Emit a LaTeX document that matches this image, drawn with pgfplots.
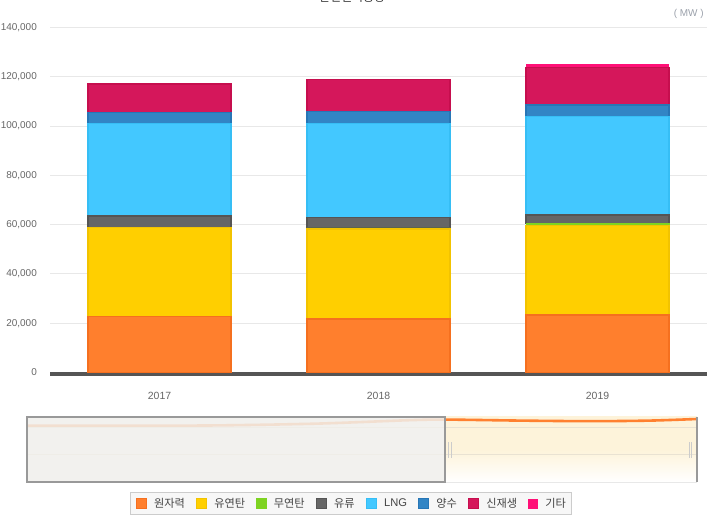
\documentclass[border=0pt]{standalone}
\usepackage{pgfplots}
\pgfplotsset{compat=1.18}
\usepackage{fontspec}
\setmainfont{Liberation Sans}
\newfontfamily\kr{Noto Sans CJK KR}
\definecolor{cNuc}{HTML}{FF7F2D}
\definecolor{cNucD}{HTML}{F5701F}
\definecolor{cCoal}{HTML}{FFCF00}
\definecolor{cCoalD}{HTML}{F2C300}
\definecolor{cAnth}{HTML}{7ED321}
\definecolor{cOil}{HTML}{666666}
\definecolor{cOilD}{HTML}{555555}
\definecolor{cLng}{HTML}{43C8FF}
\definecolor{cLngD}{HTML}{36BEF5}
\definecolor{cPump}{HTML}{3285C5}
\definecolor{cPumpD}{HTML}{2776B6}
\definecolor{cRen}{HTML}{D5175B}
\definecolor{cRenD}{HTML}{C60E4E}
\definecolor{cEtc}{HTML}{FF1077}
\definecolor{c555}{HTML}{555555}
\definecolor{c666}{HTML}{666666}
\definecolor{c444}{HTML}{444444}
\definecolor{c999}{HTML}{999999}
\definecolor{cMW}{HTML}{9AA0AA}
\definecolor{cGrid}{HTML}{E8E8E8}
\definecolor{cLeg}{HTML}{F7F7F7}
\definecolor{cLegB}{HTML}{CCCCCC}
\definecolor{cNavBg}{HTML}{FDF3DA}
\definecolor{cNavGrid}{HTML}{E9E2D2}
\definecolor{cMask}{HTML}{F0EFEB}
\definecolor{cNavLine}{HTML}{FF8030}
\pgfplotsset{mylegend/.style={legend image code/.code={\fill[##1] (0bp,-5bp) rectangle (10bp,5bp);}}}
\begin{document}
\begin{tikzpicture}[x=1bp,y=1bp]
\begin{axis}[
  at={(50bp,154.5bp)}, anchor=south west,
  scale only axis, width=657bp, height=345.1bp,
  xmin=-0.5, xmax=2.5, ymin=0, ymax=140000,
  ybar stacked, bar width=143bp,
  separate axis lines,
  axis x line*=bottom,
  axis y line*=left,
  y axis line style={draw=none},
  x axis line style={line width=4bp, draw=c555, yshift=-2bp, -},
  major tick length=0pt,
  ytick={0,20000,40000,60000,80000,100000,120000,140000},
  scaled y ticks=false,
  /pgf/number format/fixed,
  /pgf/number format/1000 sep={,},
  /pgf/number format/assume math mode=true,
  yticklabel style={font=\fontsize{10}{12}\selectfont, text=c666, inner sep=0pt, xshift=-13bp, /pgf/number format/fixed},
  xtick={0,1,2}, xticklabels={2017,2018,2019},
  xticklabel style={font=\fontsize{10.5}{12}\selectfont, text=c666, inner sep=0pt, yshift=-19.5bp},
  ymajorgrids, grid style={draw=cGrid, line width=0.9bp},
  legend columns=8,
  legend style={at={(0.458,-0.380)}, anchor=center, fill=cLeg, draw=cLegB, line width=0.8bp,
    inner xsep=6bp, inner ysep=3.5bp, font=\kr\fontsize{11.2}{13}\selectfont, text=c444,
    nodes={inner xsep=0bp},
    /tikz/every odd column/.append style={column sep=7bp},
    /tikz/every even column/.append style={column sep=11.2bp}},
]
\addplot[fill=cNuc, draw=cNucD, line width=1.2bp, mylegend] coordinates {(0,22640) (1,21700) (2,23330)};
\addlegendentry{원자력}
\addplot[fill=cCoal, draw=cCoalD, line width=1.2bp, mylegend] coordinates {(0,36100) (1,36520) (2,36230)};
\addlegendentry{유연탄}
\addplot[fill=cAnth, draw=cAnth, line width=0.6bp, mylegend] coordinates {(0,200) (1,400) (2,810)};
\addlegendentry{무연탄}
\addplot[fill=cOil, draw=cOilD, line width=1.2bp, mylegend] coordinates {(0,4550) (1,4350) (2,3530)};
\addlegendentry{유류}
\addplot[fill=cLng, draw=cLngD, line width=1.2bp, mylegend] coordinates {(0,37610) (1,38130) (2,39880)};
\addlegendentry{\rmfamily LNG}
\addplot[fill=cPump, draw=cPumpD, line width=1.2bp, mylegend] coordinates {(0,4460) (1,4710) (2,4740)};
\addlegendentry{양수}
\addplot[fill=cRen, draw=cRenD, line width=1.2bp, mylegend] coordinates {(0,11480) (1,13140) (2,15300)};
\addlegendentry{신재생}
\addplot[fill=cEtc, draw=none, mylegend] coordinates {(0,0) (1,0) (2,1340)};
\addlegendentry{기타}
\end{axis}
% navigator background
\shade[top color=cNavBg, bottom color=white, middle color=cNavBg] (445,45) rectangle (697,110);
\draw[cNavGrid, line width=0.7bp] (27,99.7) -- (697,99.7);
\draw[cNavGrid, line width=0.7bp] (27,72.7) -- (697,72.7);
\draw[cGrid, line width=0.8bp] (27,45) -- (697,45);
\begin{axis}[
  at={(27bp,45bp)}, anchor=south west,
  scale only axis, width=670bp, height=65bp,
  xmin=27, xmax=697, ymin=-482, ymax=-417,
  hide axis, clip=false,
]
\addplot[smooth, draw=cNavLine, line width=2.6bp, no marks] coordinates {
 (27,-425.6) (120,-425.7) (218,-425.4) (318,-423.6) (409,-420.2) (446,-419.6)
 (520,-420.6) (590,-421.2) (650,-420.6) (697,-419.0)};
\end{axis}
% navigator mask and handles
\fill[cMask, opacity=0.86] (27,45) rectangle (445,110);
\draw[c999, line width=1.2bp] (27,45) rectangle (445,110);
\draw[c999, line width=1.5bp] (697,45) -- (697,110);
\draw[cLegB, line width=0.6bp] (448.5,69) -- (448.5,85);
\draw[cLegB, line width=0.6bp] (451,69) -- (451,85);
\draw[cLegB, line width=0.6bp] (689,69) -- (689,85);
\draw[cLegB, line width=0.6bp] (691.5,69) -- (691.5,85);
% title (mostly cut off at the top) and unit
\node[font=\kr\fontsize{12}{14}\selectfont, text=black!80, anchor=base, inner sep=0] at (352,525) {발전설비용량};
\node[font=\fontsize{10}{12}\selectfont, text=cMW, inner sep=0] at (688.7,513) {( MW )};
\pgfresetboundingbox
\path[use as bounding box] (0,0) rectangle (713,527);
\end{tikzpicture}
\end{document}
